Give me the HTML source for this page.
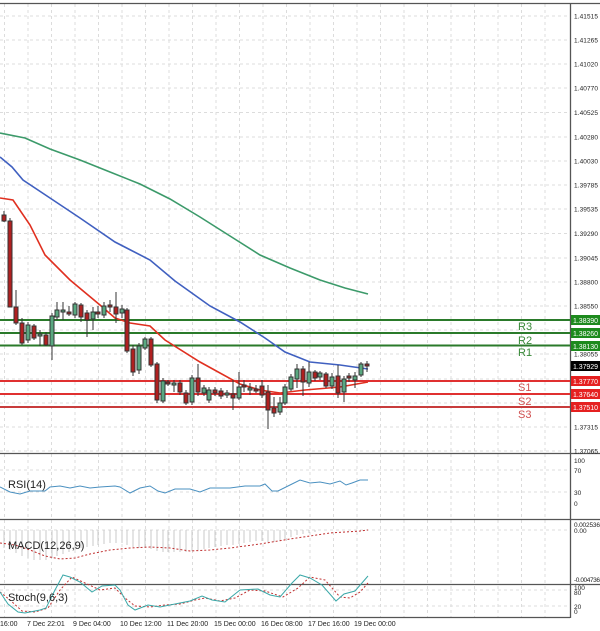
<!DOCTYPE html>
<html><head><meta charset="utf-8"><style>
body{margin:0;background:#fff}
svg{display:block;font-family:"Liberation Sans",sans-serif}
</style></head><body>
<svg width="600" height="631" viewBox="0 0 600 631" xmlns="http://www.w3.org/2000/svg">
<rect width="600" height="631" fill="#fff"/>
<g stroke="#dcdcdc" stroke-width="1" stroke-dasharray="3,3">
<line x1="4.5" y1="4" x2="4.5" y2="617"/><line x1="28" y1="4" x2="28" y2="617"/><line x1="51.5" y1="4" x2="51.5" y2="617"/><line x1="75" y1="4" x2="75" y2="617"/><line x1="98.5" y1="4" x2="98.5" y2="617"/><line x1="122" y1="4" x2="122" y2="617"/><line x1="145.5" y1="4" x2="145.5" y2="617"/><line x1="169" y1="4" x2="169" y2="617"/><line x1="192.5" y1="4" x2="192.5" y2="617"/><line x1="216" y1="4" x2="216" y2="617"/><line x1="239.5" y1="4" x2="239.5" y2="617"/><line x1="263" y1="4" x2="263" y2="617"/><line x1="286.5" y1="4" x2="286.5" y2="617"/><line x1="310" y1="4" x2="310" y2="617"/><line x1="333.5" y1="4" x2="333.5" y2="617"/><line x1="357" y1="4" x2="357" y2="617"/><line x1="380.5" y1="4" x2="380.5" y2="617"/><line x1="404" y1="4" x2="404" y2="617"/><line x1="427.5" y1="4" x2="427.5" y2="617"/><line x1="451" y1="4" x2="451" y2="617"/><line x1="474.5" y1="4" x2="474.5" y2="617"/><line x1="498" y1="4" x2="498" y2="617"/><line x1="521.5" y1="4" x2="521.5" y2="617"/><line x1="545" y1="4" x2="545" y2="617"/>
<line x1="0" y1="16" x2="570" y2="16"/><line x1="0" y1="40" x2="570" y2="40"/><line x1="0" y1="64" x2="570" y2="64"/><line x1="0" y1="88" x2="570" y2="88"/><line x1="0" y1="112.5" x2="570" y2="112.5"/><line x1="0" y1="137" x2="570" y2="137"/><line x1="0" y1="161" x2="570" y2="161"/><line x1="0" y1="185" x2="570" y2="185"/><line x1="0" y1="209" x2="570" y2="209"/><line x1="0" y1="233.5" x2="570" y2="233.5"/><line x1="0" y1="258" x2="570" y2="258"/><line x1="0" y1="282" x2="570" y2="282"/><line x1="0" y1="306" x2="570" y2="306"/><line x1="0" y1="330" x2="570" y2="330"/><line x1="0" y1="354" x2="570" y2="354"/><line x1="0" y1="379" x2="570" y2="379"/><line x1="0" y1="403" x2="570" y2="403"/><line x1="0" y1="427" x2="570" y2="427"/><line x1="0" y1="451" x2="570" y2="451"/>
<line x1="0" y1="470" x2="570" y2="470"/><line x1="0" y1="492" x2="570" y2="492"/>
<line x1="0" y1="530" x2="570" y2="530"/>
<line x1="0" y1="590" x2="570" y2="590"/><line x1="0" y1="606" x2="570" y2="606"/>
</g>
<g stroke="#555" stroke-width="1.3" fill="none">
<line x1="0" y1="3.5" x2="600" y2="3.5"/>
<line x1="570.5" y1="3" x2="570.5" y2="618"/>
<line x1="0" y1="453.5" x2="600" y2="453.5"/>
<line x1="0" y1="519.5" x2="600" y2="519.5"/>
<line x1="0" y1="584.5" x2="600" y2="584.5"/>
<line x1="0" y1="617.5" x2="570" y2="617.5"/>
</g>
<g stroke-width="2">
<line x1="0" y1="320" x2="570" y2="320" stroke="#2a7a2a"/>
<line x1="0" y1="333" x2="570" y2="333" stroke="#2a7a2a"/>
<line x1="0" y1="345.5" x2="570" y2="345.5" stroke="#2a7a2a"/>
<line x1="0" y1="381" x2="570" y2="381" stroke="#e03030"/>
<line x1="0" y1="394" x2="570" y2="394" stroke="#e03030"/>
<line x1="0" y1="407" x2="570" y2="407" stroke="#c83c3c"/>
</g>
<g font-size="11" >
<text x="518" y="330" fill="#3a8a3a">R3</text>
<text x="518" y="344" fill="#3a8a3a">R2</text>
<text x="518" y="356" fill="#3a8a3a">R1</text>
<text x="518" y="391" fill="#d05050">S1</text>
<text x="518" y="405" fill="#d05050">S2</text>
<text x="518" y="418" fill="#d05050">S3</text>
</g>
<g fill="none" stroke-width="1.6">
<polyline stroke="#3c9a6a" points="0,133 25,138 50,149 80,160 110,172 140,184 170,199 200,217 230,236 260,255 290,268 320,280 345,288 368,294"/>
<polyline stroke="#4060c0" points="0,157 12,167 23,180 50,198 80,218 115,242 150,260 175,281 210,306 240,322 265,338 285,352 310,362 340,365 368,369"/>
<polyline stroke="#e03020" points="0,198 13,200 30,225 45,255 70,280 100,305 115,318 130,323 150,326 165,340 200,362 240,384 260,390 280,393 305,390 340,387 368,382"/>
</g>
<g stroke="#333" stroke-width="1">
<line x1="4" y1="211" x2="4" y2="222"/><rect x="2" y="215" width="4" height="6" fill="#b02020"/>
<line x1="10" y1="218" x2="10" y2="307"/><rect x="8" y="221" width="4" height="86" fill="#b02020"/>
<line x1="16" y1="290" x2="16" y2="325"/><rect x="14" y="307" width="4" height="16" fill="#b02020"/>
<line x1="22" y1="318" x2="22" y2="345"/><rect x="20" y="323" width="4" height="20" fill="#b02020"/>
<line x1="28" y1="322" x2="28" y2="343"/><rect x="26" y="325" width="4" height="15" fill="#5aa880"/>
<line x1="34" y1="324" x2="34" y2="340"/><rect x="32" y="326" width="4" height="12" fill="#b02020"/>
<line x1="40" y1="330" x2="40" y2="346"/><rect x="38" y="334" width="4" height="2" fill="#5aa880"/>
<line x1="46" y1="332" x2="46" y2="346"/><rect x="44" y="335" width="4" height="10" fill="#b02020"/>
<line x1="52" y1="313" x2="52" y2="360"/><rect x="50" y="316" width="4" height="30" fill="#5aa880"/>
<line x1="57" y1="302" x2="57" y2="320"/><rect x="55" y="310" width="4" height="7" fill="#5aa880"/>
<line x1="63" y1="302" x2="63" y2="320"/><rect x="61" y="310" width="4" height="2" fill="#5aa880"/>
<line x1="69" y1="306" x2="69" y2="316"/><rect x="67" y="312" width="4" height="2" fill="#b02020"/>
<line x1="75" y1="302" x2="75" y2="318"/><rect x="73" y="304" width="4" height="11" fill="#5aa880"/>
<line x1="81" y1="303" x2="81" y2="322"/><rect x="79" y="305" width="4" height="12" fill="#b02020"/>
<line x1="87" y1="310" x2="87" y2="337"/><rect x="85" y="313" width="4" height="7" fill="#b02020"/>
<line x1="93" y1="307" x2="93" y2="330"/><rect x="91" y="312" width="4" height="7" fill="#5aa880"/>
<line x1="98" y1="306" x2="98" y2="318"/><rect x="96" y="312" width="4" height="2" fill="#b02020"/>
<line x1="104" y1="302" x2="104" y2="318"/><rect x="102" y="306" width="4" height="9" fill="#5aa880"/>
<line x1="110" y1="300" x2="110" y2="312"/><rect x="108" y="305" width="4" height="2" fill="#b02020"/>
<line x1="116" y1="292" x2="116" y2="323"/><rect x="114" y="307" width="4" height="7" fill="#b02020"/>
<line x1="122" y1="305" x2="122" y2="318"/><rect x="120" y="309" width="4" height="4" fill="#5aa880"/>
<line x1="127" y1="308" x2="127" y2="353"/><rect x="125" y="310" width="4" height="41" fill="#b02020"/>
<line x1="133" y1="345" x2="133" y2="376"/><rect x="131" y="349" width="4" height="23" fill="#b02020"/>
<line x1="139" y1="343" x2="139" y2="374"/><rect x="137" y="346" width="4" height="24" fill="#5aa880"/>
<line x1="145" y1="337" x2="145" y2="350"/><rect x="143" y="339" width="4" height="9" fill="#5aa880"/>
<line x1="151" y1="337" x2="151" y2="367"/><rect x="149" y="339" width="4" height="26" fill="#b02020"/>
<line x1="157" y1="362" x2="157" y2="403"/><rect x="155" y="364" width="4" height="36" fill="#b02020"/>
<line x1="163" y1="378" x2="163" y2="403"/><rect x="161" y="381" width="4" height="20" fill="#5aa880"/>
<line x1="168" y1="380" x2="168" y2="386"/><rect x="166" y="382" width="4" height="2" fill="#b02020"/>
<line x1="174" y1="380" x2="174" y2="392"/><rect x="172" y="383" width="4" height="2" fill="#5aa880"/>
<line x1="180" y1="380" x2="180" y2="395"/><rect x="178" y="383" width="4" height="9" fill="#b02020"/>
<line x1="186" y1="390" x2="186" y2="405"/><rect x="184" y="393" width="4" height="10" fill="#b02020"/>
<line x1="192" y1="375" x2="192" y2="405"/><rect x="190" y="378" width="4" height="24" fill="#5aa880"/>
<line x1="198" y1="364" x2="198" y2="396"/><rect x="196" y="378" width="4" height="14" fill="#b02020"/>
<line x1="204" y1="385" x2="204" y2="396"/><rect x="202" y="388" width="4" height="5" fill="#5aa880"/>
<line x1="209" y1="387" x2="209" y2="403"/><rect x="207" y="390" width="4" height="10" fill="#5aa880"/>
<line x1="215" y1="387" x2="215" y2="396"/><rect x="213" y="390" width="4" height="3" fill="#b02020"/>
<line x1="221" y1="388" x2="221" y2="399"/><rect x="219" y="391" width="4" height="5" fill="#b02020"/>
<line x1="227" y1="390" x2="227" y2="398"/><rect x="225" y="393" width="4" height="2" fill="#5aa880"/>
<line x1="233" y1="380" x2="233" y2="410"/><rect x="231" y="394" width="4" height="4" fill="#b02020"/>
<line x1="239" y1="372" x2="239" y2="400"/><rect x="237" y="387" width="4" height="11" fill="#5aa880"/>
<line x1="244" y1="380" x2="244" y2="392"/><rect x="242" y="385" width="4" height="2" fill="#b02020"/>
<line x1="250" y1="383" x2="250" y2="395"/><rect x="248" y="388" width="4" height="2" fill="#5aa880"/>
<line x1="256" y1="385" x2="256" y2="393"/><rect x="254" y="389" width="4" height="2" fill="#b02020"/>
<line x1="262" y1="380" x2="262" y2="398"/><rect x="260" y="386" width="4" height="9" fill="#b02020"/>
<line x1="268" y1="385" x2="268" y2="429"/><rect x="266" y="392" width="4" height="18" fill="#b02020"/>
<line x1="274" y1="397" x2="274" y2="417"/><rect x="272" y="408" width="4" height="5" fill="#b02020"/>
<line x1="280" y1="397" x2="280" y2="415"/><rect x="278" y="403" width="4" height="9" fill="#5aa880"/>
<line x1="285" y1="384" x2="285" y2="405"/><rect x="283" y="387" width="4" height="16" fill="#5aa880"/>
<line x1="291" y1="374" x2="291" y2="391"/><rect x="289" y="377" width="4" height="12" fill="#5aa880"/>
<line x1="297" y1="364" x2="297" y2="388"/><rect x="295" y="369" width="4" height="10" fill="#5aa880"/>
<line x1="303" y1="366" x2="303" y2="396"/><rect x="301" y="369" width="4" height="13" fill="#b02020"/>
<line x1="309" y1="362" x2="309" y2="387"/><rect x="307" y="372" width="4" height="11" fill="#5aa880"/>
<line x1="315" y1="370" x2="315" y2="381"/><rect x="313" y="372" width="4" height="6" fill="#b02020"/>
<line x1="320" y1="371" x2="320" y2="380"/><rect x="318" y="373" width="4" height="4" fill="#5aa880"/>
<line x1="326" y1="372" x2="326" y2="388"/><rect x="324" y="374" width="4" height="12" fill="#b02020"/>
<line x1="332" y1="373" x2="332" y2="389"/><rect x="330" y="377" width="4" height="9" fill="#5aa880"/>
<line x1="338" y1="365" x2="338" y2="398"/><rect x="336" y="376" width="4" height="17" fill="#b02020"/>
<line x1="344" y1="376" x2="344" y2="402"/><rect x="342" y="379" width="4" height="13" fill="#5aa880"/>
<line x1="349" y1="373" x2="349" y2="382"/><rect x="347" y="376" width="4" height="2" fill="#b02020"/>
<line x1="355" y1="372" x2="355" y2="388"/><rect x="353" y="376" width="4" height="4" fill="#5aa880"/>
<line x1="361" y1="362" x2="361" y2="377"/><rect x="359" y="364" width="4" height="11" fill="#5aa880"/>
<line x1="367" y1="361" x2="367" y2="372"/><rect x="365" y="364" width="4" height="2" fill="#b02020"/>
</g>
<g font-size="6.5" fill="#222">
<text x="574" y="18.5" textLength="24">1.41515</text><text x="574" y="42.5" textLength="24">1.41265</text><text x="574" y="66.5" textLength="24">1.41020</text><text x="574" y="90.5" textLength="24">1.40770</text><text x="574" y="115" textLength="24">1.40525</text><text x="574" y="139.5" textLength="24">1.40280</text><text x="574" y="163.5" textLength="24">1.40030</text><text x="574" y="187.5" textLength="24">1.39785</text><text x="574" y="211.5" textLength="24">1.39535</text><text x="574" y="236" textLength="24">1.39290</text><text x="574" y="260.5" textLength="24">1.39045</text><text x="574" y="284.5" textLength="24">1.38800</text><text x="574" y="308.5" textLength="24">1.38550</text><text x="574" y="356.5" textLength="24">1.38055</text><text x="574" y="429.5" textLength="24">1.37315</text><text x="574" y="453.5" textLength="24">1.37065</text>
</g>
<g font-size="7">
<rect x="571" y="315" width="29" height="10" fill="#1d8a1d"/><text x="573" y="323" fill="#fff" textLength="25">1.38390</text>
<rect x="571" y="328" width="29" height="10" fill="#1d8a1d"/><text x="573" y="336" fill="#fff" textLength="25">1.38260</text>
<rect x="571" y="341" width="29" height="10" fill="#1d8a1d"/><text x="573" y="349" fill="#fff" textLength="25">1.38130</text>
<rect x="571" y="361" width="29" height="10" fill="#000"/><text x="573" y="369" fill="#fff" textLength="25">1.37929</text>
<rect x="571" y="376" width="29" height="10" fill="#e52020"/><text x="573" y="384" fill="#fff" textLength="25">1.37770</text>
<rect x="571" y="389" width="29" height="10" fill="#e52020"/><text x="573" y="397" fill="#fff" textLength="25">1.37640</text>
<rect x="571" y="402" width="29" height="10" fill="#e52020"/><text x="573" y="410" fill="#fff" textLength="25">1.37510</text>
</g>
<polyline fill="none" stroke="#4a90c0" stroke-width="1" points="0,487 10,492 20,494 30,491 45,491 50,487 60,486 70,488 80,486 90,488 100,487 115,486 120,487 130,493 140,488 150,486 158,491 165,493 175,489 190,489 200,492 210,488 230,488 245,486 260,486 265,484 272,491 278,491 290,485 300,480 310,483 320,482 330,484 340,481 346,485 352,483 360,480 368,480"/>
<text x="8" y="488" font-size="11" fill="#222">RSI(14)</text>
<g font-size="6.5" fill="#222"><text x="574" y="463">100</text><text x="574" y="473">70</text><text x="574" y="495">30</text><text x="574" y="506">0</text></g>
<g stroke="#c8c8c8" stroke-width="1">
<line x1="4" y1="530" x2="4" y2="548"/><line x1="10" y1="530" x2="10" y2="550"/><line x1="16" y1="530" x2="16" y2="553"/><line x1="22" y1="530" x2="22" y2="556"/><line x1="28" y1="530" x2="28" y2="558"/><line x1="34" y1="530" x2="34" y2="560"/><line x1="40" y1="530" x2="40" y2="560"/><line x1="46" y1="530" x2="46" y2="560"/><line x1="52" y1="530" x2="52" y2="558"/><line x1="57" y1="530" x2="57" y2="556"/><line x1="63" y1="530" x2="63" y2="554"/><line x1="69" y1="530" x2="69" y2="552"/><line x1="75" y1="530" x2="75" y2="550"/><line x1="81" y1="530" x2="81" y2="548"/><line x1="87" y1="530" x2="87" y2="547"/><line x1="93" y1="530" x2="93" y2="546"/><line x1="98" y1="530" x2="98" y2="545"/><line x1="104" y1="530" x2="104" y2="544"/><line x1="110" y1="530" x2="110" y2="543"/><line x1="116" y1="530" x2="116" y2="543"/><line x1="122" y1="530" x2="122" y2="543"/><line x1="127" y1="530" x2="127" y2="545"/><line x1="133" y1="530" x2="133" y2="547"/><line x1="139" y1="530" x2="139" y2="548"/><line x1="145" y1="530" x2="145" y2="548"/><line x1="151" y1="530" x2="151" y2="549"/><line x1="157" y1="530" x2="157" y2="551"/><line x1="163" y1="530" x2="163" y2="552"/><line x1="168" y1="530" x2="168" y2="552"/><line x1="174" y1="530" x2="174" y2="552"/><line x1="180" y1="530" x2="180" y2="552"/><line x1="186" y1="530" x2="186" y2="552"/><line x1="192" y1="530" x2="192" y2="551"/><line x1="198" y1="530" x2="198" y2="550"/><line x1="204" y1="530" x2="204" y2="549"/><line x1="209" y1="530" x2="209" y2="548"/><line x1="215" y1="530" x2="215" y2="547"/><line x1="221" y1="530" x2="221" y2="546"/><line x1="227" y1="530" x2="227" y2="545"/><line x1="233" y1="530" x2="233" y2="545"/><line x1="239" y1="530" x2="239" y2="544"/><line x1="244" y1="530" x2="244" y2="543"/><line x1="250" y1="530" x2="250" y2="542"/><line x1="256" y1="530" x2="256" y2="541"/><line x1="262" y1="530" x2="262" y2="541"/><line x1="268" y1="530" x2="268" y2="542"/><line x1="274" y1="530" x2="274" y2="542"/><line x1="280" y1="530" x2="280" y2="541"/><line x1="285" y1="530" x2="285" y2="539"/><line x1="291" y1="530" x2="291" y2="537"/><line x1="297" y1="530" x2="297" y2="535"/><line x1="303" y1="530" x2="303" y2="534"/><line x1="309" y1="530" x2="309" y2="533"/><line x1="315" y1="530" x2="315" y2="532"/>
</g>
<polyline fill="none" stroke="#c03030" stroke-width="1" stroke-dasharray="2,2" points="0,543 15,545 30,550 45,556 60,559 75,558 90,554 110,550 130,548 150,547 170,548 190,551 210,550 230,548 260,544 290,539 310,536 330,533 345,532 360,531 368,530"/>
<text x="8" y="549" font-size="11" fill="#222">MACD(12,26,9)</text>
<g font-size="6.5" fill="#222"><text x="574" y="527" textLength="26">0.002536</text><text x="574" y="533">0.00</text><text x="574" y="582" textLength="26">-0.004736</text></g>
<polyline fill="none" stroke="#c03030" stroke-width="1" stroke-dasharray="2,2" points="0,592 10,600 22,611 35,612 48,608 60,590 72,577 85,583 100,590 115,588 125,598 135,606 150,607 165,605 180,604 195,600 205,598 220,601 235,598 250,590 265,591 283,597 298,588 310,577 325,580 340,597 350,598 360,592 368,583"/>
<polyline fill="none" stroke="#3aa8a8" stroke-width="1" points="0,592 8,604 18,612 25,613 40,610 46,608 55,590 63,575 70,577 80,582 92,592 102,586 115,585 120,590 128,605 135,610 148,605 160,607 175,604 190,601 202,596 212,600 225,602 240,590 258,589 270,595 280,597 292,583 300,575 310,578 322,585 336,601 344,594 355,591 368,576"/>
<text x="8" y="601" font-size="11" fill="#222">Stoch(9,6,3)</text>
<g font-size="6.5" fill="#222"><text x="574" y="590">100</text><text x="574" y="595">80</text><text x="574" y="609">20</text><text x="574" y="614">0</text></g>
<g font-size="7" fill="#222">
<text x="0" y="626">16:00</text><text x="27" y="626">7 Dec 22:01</text><text x="73" y="626">9 Dec 04:00</text><text x="120" y="626">10 Dec 12:00</text><text x="167" y="626">11 Dec 20:00</text><text x="214" y="626">15 Dec 00:00</text><text x="261" y="626">16 Dec 08:00</text><text x="308" y="626">17 Dec 16:00</text><text x="354" y="626">19 Dec 00:00</text>
</g>
</svg>
</body></html>
